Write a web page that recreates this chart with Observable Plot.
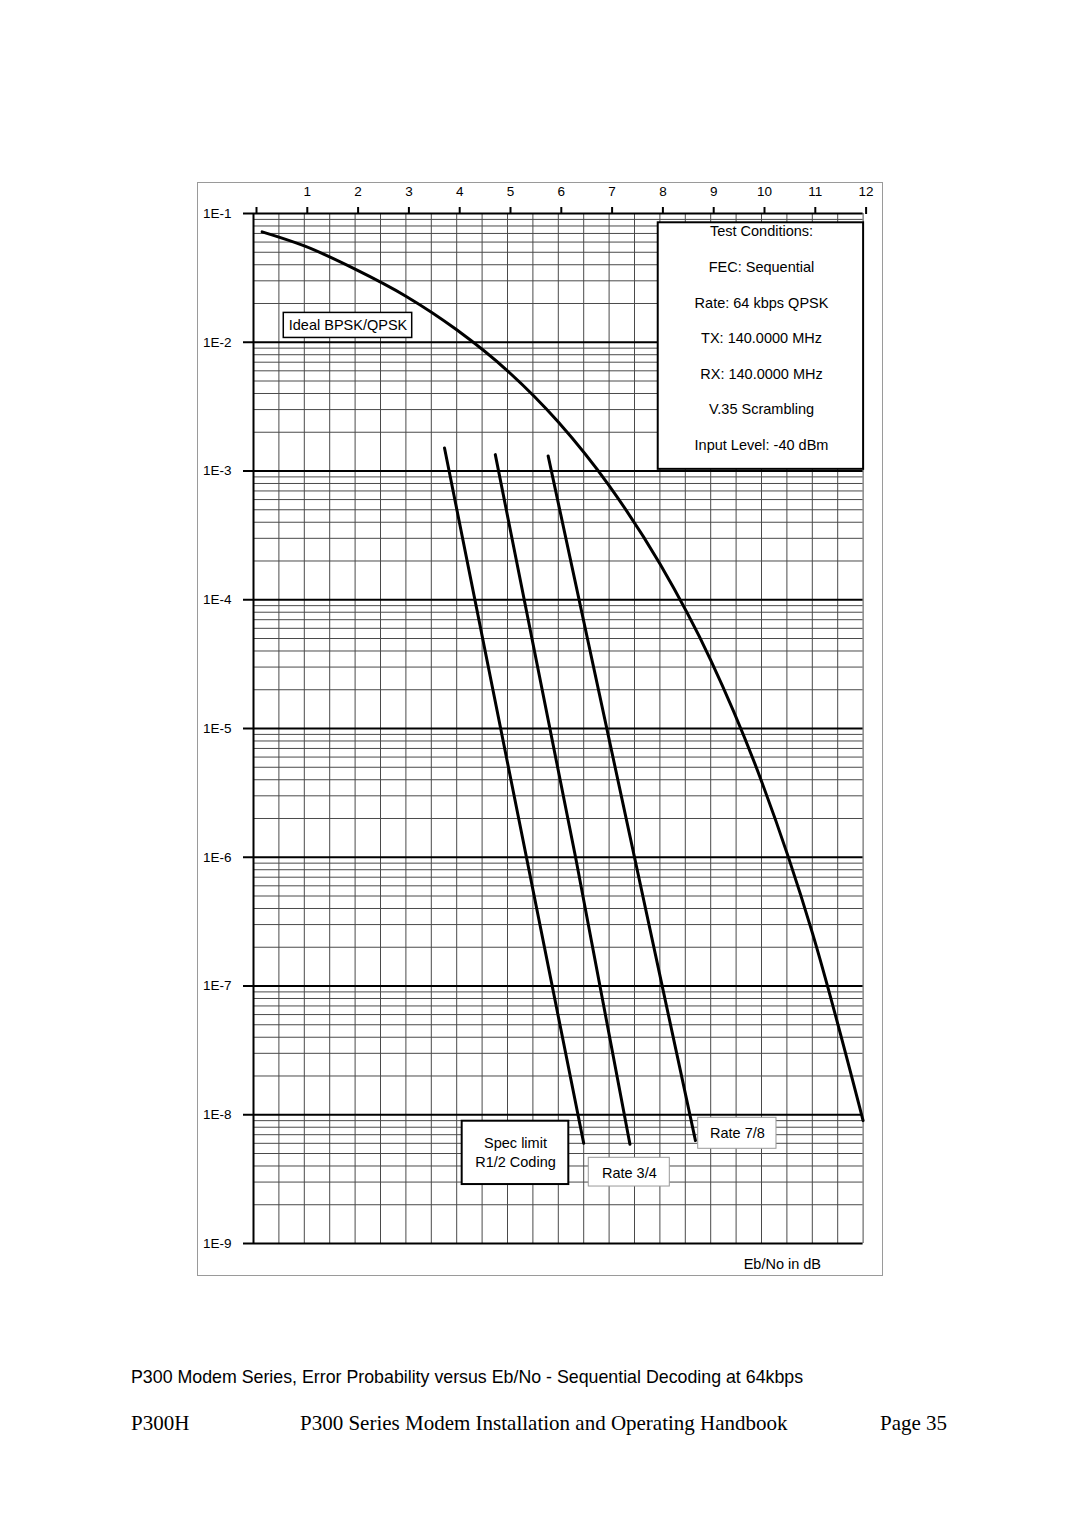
<!DOCTYPE html>
<html><head><meta charset="utf-8">
<script src="https://cdn.jsdelivr.net/npm/d3@7"></script>
<script src="https://cdn.jsdelivr.net/npm/@observablehq/plot@0.6"></script>
<style>
body{margin:0;background:#fff;}
#page{position:relative;width:1080px;height:1528px;background:#fff;overflow:hidden;}
#outer{position:absolute;left:197px;top:182px;width:684px;height:1092px;border:1px solid #9a9a9a;}
#chart{position:absolute;left:0;top:0;}
.cap{position:absolute;left:131px;top:1367px;font:17.8px "Liberation Sans",Arial,sans-serif;color:#000;white-space:nowrap;}
.foot{position:absolute;top:1411px;font:21px "Liberation Serif","Times New Roman",serif;color:#000;white-space:nowrap;}
</style></head><body>
<div id="page">
<div id="outer"></div>
<div id="chart"></div>
<div class="cap">P300 Modem Series, Error Probability versus Eb/No - Sequential Decoding at 64kbps</div>
<div class="foot" style="left:131px">P300H</div>
<div class="foot" style="left:300px">P300 Series Modem Installation and Operating Handbook</div>
<div class="foot" style="left:880px">Page 35</div>
</div>
<script>
// Eb/No (dB) and bit error probability
const ebnoIdeal = [0.17, 1, 2, 3, 4, 5, 6, 7, 8, 9, 10, 11, 12];
const berIdeal  = [0.072, 0.056, 0.037, 0.0228, 0.0125, 0.006, 0.0024, 0.00077, 0.00019, 3.4e-5, 3.9e-6, 2.6e-7, 9e-9];
const ebnoSpec = [3.76, 6.50];
const berSpec  = [1.51e-3, 6.0e-9];
const ebno34 = [4.76, 6.34, 7.41];
const ber34  = [1.34e-3, 1e-6, 5.9e-9];
const ebno78 = [5.80, 8.70];
const ber78  = [1.31e-3, 6.3e-9];

const xTicks = [0,1,2,3,4,5,6,7,8,9,10,11,12];
const yTicks = [1e-1,1e-2,1e-3,1e-4,1e-5,1e-6,1e-7,1e-8,1e-9];
const yTickLabels = ["1E-1","1E-2","1E-3","1E-4","1E-5","1E-6","1E-7","1E-8","1E-9"];

const conditions = ["Test Conditions:","FEC: Sequential","Rate: 64 kbps QPSK","TX: 140.0000 MHz","RX: 140.0000 MHz","V.35 Scrambling","Input Level: -40 dBm"];

// annotation boxes (data coordinates)
const boxes = [
  {x1:0.596, x2:3.124, y1:1.69e-2, y2:1.08e-2, sw:1.5, stroke:"#000"},
  {x1:7.967, x2:12.01, y1:8.47e-2, y2:1.03e-3, sw:2, stroke:"#000"},
  {x1:4.108, x2:6.207, y1:8.91e-9, y2:2.87e-9, sw:2, stroke:"#000"},
  {x1:6.600, x2:8.195, y1:4.63e-9, y2:2.77e-9, sw:1, stroke:"#999"},
  {x1:8.754, x2:10.295, y1:9.47e-9, y2:5.44e-9, sw:1, stroke:"#999"}
];
const labels = [
  {x:1.86, y:1.35e-2, text:"Ideal BPSK/QPSK", lh:1, dy:0},
  {x:10.0, y:1.064e-2, text:conditions.join("\n"), lh:2.455, dy:-7},
  {x:5.157, y:5.05e-9, text:"Spec limit\nR1/2 Coding", lh:1.27, dy:-1.5},
  {x:7.398, y:3.52e-9, text:"Rate 3/4", lh:1, dy:0},
  {x:9.526, y:7.11e-9, text:"Rate 7/8", lh:1, dy:0},
  {x:10.41, y:6.87e-10, text:"Eb/No in dB", lh:1, dy:0}
];

const toRows = (xs, ys) => xs.map((x, i) => ({x, y: ys[i]}));
const ideal = toRows(ebnoIdeal, berIdeal);
const spec = toRows(ebnoSpec, berSpec);
const r34 = toRows(ebno34, ber34);
const r78 = toRows(ebno78, ber78);

const vGrid = d3.range(0.5, 12.01, 0.5);
const minorY = [];
for (let e = -9; e <= -2; e++) for (let k = 2; k <= 9; k++) minorY.push(k * Math.pow(10, e));

const chart = Plot.plot({
  width: 1080,
  height: 1290,
  marginLeft: 253,
  marginRight: 217.4,
  marginTop: 213,
  marginBottom: 47,
  style: {fontFamily: "'Liberation Sans', Arial, sans-serif", fontSize: "13px", background: "transparent", color: "#000"},
  x: {domain: [0, 12]},
  y: {type: "log", domain: [1e-9, 1e-1]},
  marks: [
    Plot.ruleX(vGrid, {stroke: "#4a4a4a", strokeWidth: 1}),
    Plot.ruleY(minorY, {x1: 0, x2: 12, stroke: "#4a4a4a", strokeWidth: 1}),
    Plot.ruleY(yTicks, {x1: 0, x2: 12, stroke: "#000", strokeWidth: 2}),
    Plot.ruleX([0], {stroke: "#000", strokeWidth: 2}),
    Plot.axisX({anchor: "top", ticks: xTicks, tickFormat: d => d === 0 ? "" : String(d), tickSize: 7, tickPadding: 11, strokeWidth: 2, fontSize: 13.5, dx: 3, label: null}),
    Plot.axisY({ticks: yTicks, tickFormat: d => yTickLabels[yTicks.indexOf(d)], tickSize: 10, tickPadding: 12, strokeWidth: 2, fontSize: 13.5, label: null}),
    Plot.line(ideal, {x: "x", y: "y", stroke: "#000", strokeWidth: 3, curve: "monotone-x"}),
    Plot.line(spec, {x: "x", y: "y", stroke: "#000", strokeWidth: 3}),
    Plot.line(r34, {x: "x", y: "y", stroke: "#000", strokeWidth: 3}),
    Plot.line(r78, {x: "x", y: "y", stroke: "#000", strokeWidth: 3}),
    Plot.rect(boxes, {x1: "x1", x2: "x2", y1: "y1", y2: "y2", fill: "#fff", stroke: d => d.stroke, strokeWidth: d => d.sw}),
    ...labels.map(l => Plot.text([l], {x: "x", y: "y", text: "text", fontSize: 14.5, lineHeight: l.lh, lineAnchor: "middle", textAnchor: "middle", dy: l.dy, fill: "#000"}))
  ]
});
document.getElementById("chart").appendChild(chart);
</script>
</body></html>
